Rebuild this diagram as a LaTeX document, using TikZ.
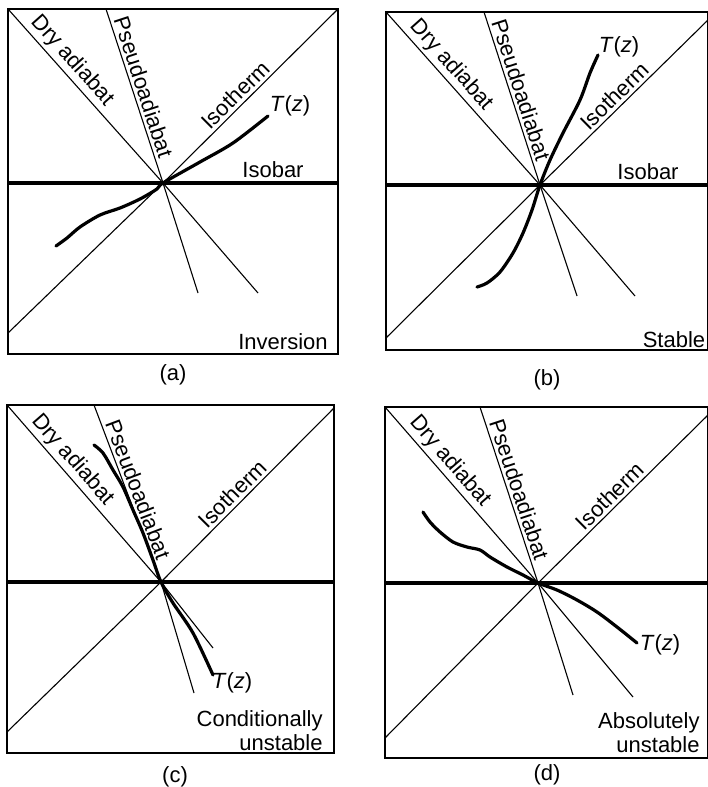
\documentclass[tikz,border=0pt]{standalone}
\usepackage{fontspec}
\setmainfont{Liberation Sans}

\begin{document}
\begin{tikzpicture}[
    x=0.5pt, y=-0.5pt,
    font=\fontsize{11}{12}\selectfont,
    frame/.style={draw, line width=0.85pt},
    guide/.style={draw, line width=0.55pt},
    isobar/.style={draw, line width=1.6pt},
    profile/.style={draw, line width=1.6pt, line cap=round, line join=round},
    lbl/.style={inner sep=1pt},
    along/.style={inner sep=1.5pt, sloped, above},
    note/.style={inner sep=1pt, align=right, anchor=east}
]
    \useasboundingbox (0,0) rectangle (707,787);

    % (a) inversion
    \coordinate (oa) at (163,183);
    \coordinate (a-tl) at (8,9);
    \coordinate (a-br) at (338,354);
    \coordinate (a-dry) at (258,293);
    \coordinate (a-ps0) at (106,9);
    \coordinate (a-ps1) at (198,293);
    \coordinate (a-iso0) at (338,9);
    \coordinate (a-iso1) at (8,333);
    \draw[frame] (a-tl) rectangle (a-br);
    \draw[guide] (a-tl) -- (oa) -- (a-dry);
    \draw[guide] (a-ps0) -- (oa) -- (a-ps1);
    \draw[guide] (a-iso0) -- (oa) -- (a-iso1);
    \draw[isobar] (a-tl |- oa) -- (a-br |- oa);
    \draw[profile] plot[smooth] coordinates {(56,246) (67,238) (80,227) (100,215) (120,208) (140,199) (157,189) (oa) (200,162) (233,143) (268,116)};
    \path (a-tl) -- (oa) node[along, pos=0.35] (a-drylbl) {Dry adiabat};
    \path (a-ps0) -- (oa) node[along, pos=0.47] (a-pslbl) {Pseudoadiabat};
    \path (oa) -- (a-iso0) node[along, pos=0.46] (a-isolbl) {Isotherm};
    \node[lbl] (a-tz) at (290,106) {\textit{T}(\textit{z})};
    \node[lbl, above] (a-bar) at (273,180) {Isobar};
    \node[lbl] (a-kind) at (283,342) {Inversion};
    \node[lbl] (a-cap) at (173,375) {(a)};

    % (b) stable
    \coordinate (ob) at (540,185);
    \coordinate (b-tl) at (386,12);
    \coordinate (b-br) at (708,350);
    \coordinate (b-dry) at (635,296);
    \coordinate (b-ps0) at (484,12);
    \coordinate (b-ps1) at (577,296);
    \coordinate (b-iso0) at (708,20);
    \coordinate (b-iso1) at (386,338);
    \draw[frame] (b-tl) rectangle (b-br);
    \draw[guide] (b-tl) -- (ob) -- (b-dry);
    \draw[guide] (b-ps0) -- (ob) -- (b-ps1);
    \draw[guide] (b-iso0) -- (ob) -- (b-iso1);
    \draw[isobar] (b-tl |- ob) -- (b-br |- ob);
    \draw[profile] plot[smooth] coordinates {(477,287) (487,283) (500,272) (513,253) (523,233) (532,210) (ob) (550,160) (563,133) (580,100) (590,73) (598,55)};
    \path (b-tl) -- (ob) node[along, pos=0.36] (b-drylbl) {Dry adiabat};
    \path (b-ps0) -- (ob) node[along, pos=0.47] (b-pslbl) {Pseudoadiabat};
    \path (ob) -- (b-iso0) node[along, pos=0.49] (b-isolbl) {Isotherm};
    \node[lbl] (b-tz) at (619,47) {\textit{T}(\textit{z})};
    \node[lbl, above] (b-bar) at (648,182) {Isobar};
    \node[lbl] (b-kind) at (674,340) {Stable};
    \node[lbl] (b-cap) at (547,380) {(b)};

    % (c) conditionally unstable
    \coordinate (oc) at (161,582);
    \coordinate (c-tl) at (7,405);
    \coordinate (c-br) at (334,753);
    \coordinate (c-dry) at (213,648);
    \coordinate (c-ps0) at (94,405);
    \coordinate (c-ps1) at (194,693);
    \coordinate (c-iso0) at (334,408);
    \coordinate (c-iso1) at (7,732);
    \draw[frame] (c-tl) rectangle (c-br);
    \draw[guide] (c-tl) -- (oc) -- (c-dry);
    \draw[guide] (c-ps0) -- (oc) -- (c-ps1);
    \draw[guide] (c-iso0) -- (oc) -- (c-iso1);
    \draw[isobar] (c-tl |- oc) -- (c-br |- oc);
    \draw[profile] plot[smooth] coordinates {(94,445) (103,453) (113,470) (123,487) (133,510) (143,533) (153,560) (oc) (173,603) (193,633) (213,675)};
    \path (c-tl) -- (oc) node[along, pos=0.36] (c-drylbl) {Dry adiabat};
    \path (c-ps0) -- (oc) node[along, pos=0.50] (c-pslbl) {Pseudoadiabat};
    \path (oc) -- (c-iso0) node[along, pos=0.46] (c-isolbl) {Isotherm};
    \node[lbl] (c-tz) at (232,683) {\textit{T}(\textit{z})};
    \node[note] (c-kind) at (325,731) {Conditionally\\unstable};
    \node[lbl] (c-cap) at (175,777) {(c)};

    % (d) absolutely unstable
    \coordinate (od) at (538,583);
    \coordinate (d-tl) at (385,407);
    \coordinate (d-br) at (708,758);
    \coordinate (d-dry) at (633,697);
    \coordinate (d-ps0) at (480,407);
    \coordinate (d-ps1) at (573,695);
    \coordinate (d-iso0) at (708,415);
    \coordinate (d-iso1) at (385,738);
    \draw[frame] (d-tl) rectangle (d-br);
    \draw[guide] (d-tl) -- (od) -- (d-dry);
    \draw[guide] (d-ps0) -- (od) -- (d-ps1);
    \draw[guide] (d-iso0) -- (od) -- (d-iso1);
    \draw[isobar] (d-tl |- od) -- (d-br |- od);
    \draw[profile] plot[smooth] coordinates {(423,512) (430,522) (440,532) (453,542) (467,547) (480,550) (490,557) (507,567) (523,575) (od) (557,590) (577,600) (597,612) (617,627) (637,643)};
    \path (d-tl) -- (od) node[along, pos=0.36] (d-drylbl) {Dry adiabat};
    \path (d-ps0) -- (od) node[along, pos=0.49] (d-pslbl) {Pseudoadiabat};
    \path (od) -- (d-iso0) node[along, pos=0.47] (d-isolbl) {Isotherm};
    \node[lbl] (d-tz) at (660,645) {\textit{T}(\textit{z})};
    \node[note] (d-kind) at (702,733) {Absolutely\\unstable};
    \node[lbl] (d-cap) at (547,775) {(d)};
\end{tikzpicture}
\end{document}
